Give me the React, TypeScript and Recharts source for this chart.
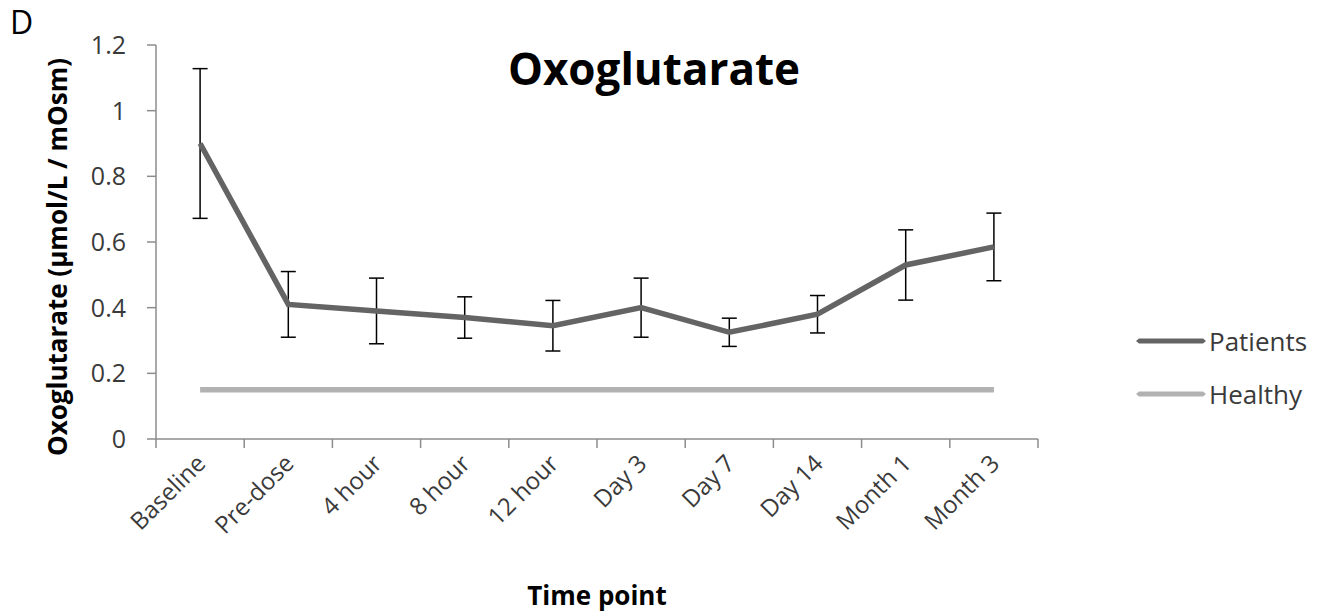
import React from 'react';
import { LineChart, Line, XAxis, YAxis, ErrorBar, Legend } from 'recharts';

const timePoints = ['Baseline', 'Pre-dose', '4 hour', '8 hour', '12 hour', 'Day 3', 'Day 7', 'Day 14', 'Month 1', 'Month 3'];
const patientMeans = [0.9, 0.41, 0.39, 0.37, 0.345, 0.4, 0.325, 0.38, 0.53, 0.585];
const patientErrors = [0.228, 0.1, 0.1, 0.063, 0.077, 0.09, 0.043, 0.057, 0.107, 0.103];
const healthyMeans = [0.15, 0.15, 0.15, 0.15, 0.15, 0.15, 0.15, 0.15, 0.15, 0.15];
const healthyErrors = [0, 0, 0, 0, 0, 0, 0, 0, 0, 0];
const yTicks = [0, 0.2, 0.4, 0.6, 0.8, 1, 1.2];
const legendOrder = ['Patients', 'Healthy'];

const data = timePoints.map((label, i) => ({
    label,
    patients: patientMeans[i],
    patientsErr: patientErrors[i],
    healthy: healthyMeans[i],
    healthyErr: healthyErrors[i],
}));

const FONT = '"Open Sans", sans-serif';
const AXIS_GREY = '#8c8c8c';
const TEXT_GREY = '#3a3a3a';

// category label rotated 45deg, plus a tick mark on each band boundary
const TimeTick = (props: any) => {
    const { x, y, payload, index } = props;
    const half = payload && payload.offset ? payload.offset : 44.1;
    const tx = x + 7;
    const ty = y + 26;
    return (
        <g>
            <line x1={x + half} y1={y} x2={x + half} y2={y + 9} stroke={AXIS_GREY} strokeWidth={1.5} />
            {index === 0 && <line x1={x - half} y1={y} x2={x - half} y2={y + 9} stroke={AXIS_GREY} strokeWidth={1.5} />}
            <text
                x={tx}
                y={ty}
                textAnchor="end"
                transform={`rotate(-45, ${tx}, ${ty})`}
                fontFamily={FONT}
                fontSize={24}
                fill={TEXT_GREY}
            >
                {payload.value}
            </text>
        </g>
    );
};

const renderLegend = (props: any) => {
    const items = [...props.payload].sort(
        (a: any, b: any) => legendOrder.indexOf(a.value) - legendOrder.indexOf(b.value)
    );
    return (
        <div style={{ fontFamily: FONT, fontSize: 26, color: TEXT_GREY }}>
            {items.map((item: any) => (
                <div key={item.value} style={{ display: 'flex', alignItems: 'center', height: 53 }}>
                    <svg width={70} height={10} style={{ display: 'block' }}>
                        <polygon points="0,5 3,2.5 67,2.5 70,5 67,7.5 3,7.5" fill={item.color} />
                    </svg>
                    <span style={{ marginLeft: 3, lineHeight: '30px' }}>{item.value}</span>
                </div>
            ))}
        </div>
    );
};

export default function App() {
    return (
        <div style={{ position: 'absolute', left: 0, top: 0, background: '#fff' }}>
            <LineChart width={1329} height={615} data={data} margin={{ top: 45, right: 291, bottom: 66, left: 0 }}>
                <XAxis
                    dataKey="label"
                    scale="band"
                    height={110}
                    tickLine={false}
                    tickSize={0}
                    tickMargin={0}
                    interval={0}
                    stroke={AXIS_GREY}
                    strokeWidth={1.5}
                    tick={<TimeTick />}
                />
                <YAxis
                    width={156}
                    domain={[0, 1.2]}
                    ticks={yTicks}
                    tickSize={9}
                    tickMargin={21}
                    stroke={AXIS_GREY}
                    strokeWidth={1.5}
                    tick={{ fontFamily: FONT, fontSize: 25, fill: TEXT_GREY }}
                    tickFormatter={(v: number) => String(+v.toFixed(1))}
                />
                <Line
                    dataKey="patients"
                    name="Patients"
                    stroke="#646464"
                    strokeWidth={5.5}
                    dot={false}
                    isAnimationActive={false}
                >
                    <ErrorBar dataKey="patientsErr" width={7.5} stroke="#000" strokeWidth={1.5} />
                </Line>
                <Line
                    dataKey="healthy"
                    name="Healthy"
                    stroke="#b2b2b2"
                    strokeWidth={5.5}
                    dot={false}
                    isAnimationActive={false}
                >
                    <ErrorBar dataKey="healthyErr" width={7.5} stroke="#000" strokeWidth={1.5} />
                </Line>
                <Legend
                    layout="horizontal"
                    align="center"
                    verticalAlign="middle"
                    wrapperStyle={{ left: 1136, top: 314, width: 193 }}
                    content={renderLegend}
                />
                <text x={10} y={34} fontFamily={FONT} fontSize={32} fill="#000">D</text>
                <text x={654} y={85} textAnchor="middle" fontFamily={FONT} fontSize={44} fontWeight="bold" fill="#000">
                    Oxoglutarate
                </text>
                <text
                    x={67}
                    y={257}
                    textAnchor="middle"
                    transform="rotate(-90, 67, 257)"
                    fontFamily={FONT}
                    fontSize={26}
                    fontWeight="bold"
                    fill="#000"
                >
                    Oxoglutarate (µmol/L / mOsm)
                </text>
                <text x={597} y={605} textAnchor="middle" fontFamily={FONT} fontSize={26} fontWeight="bold" fill="#000">
                    Time point
                </text>
            </LineChart>
        </div>
    );
}
